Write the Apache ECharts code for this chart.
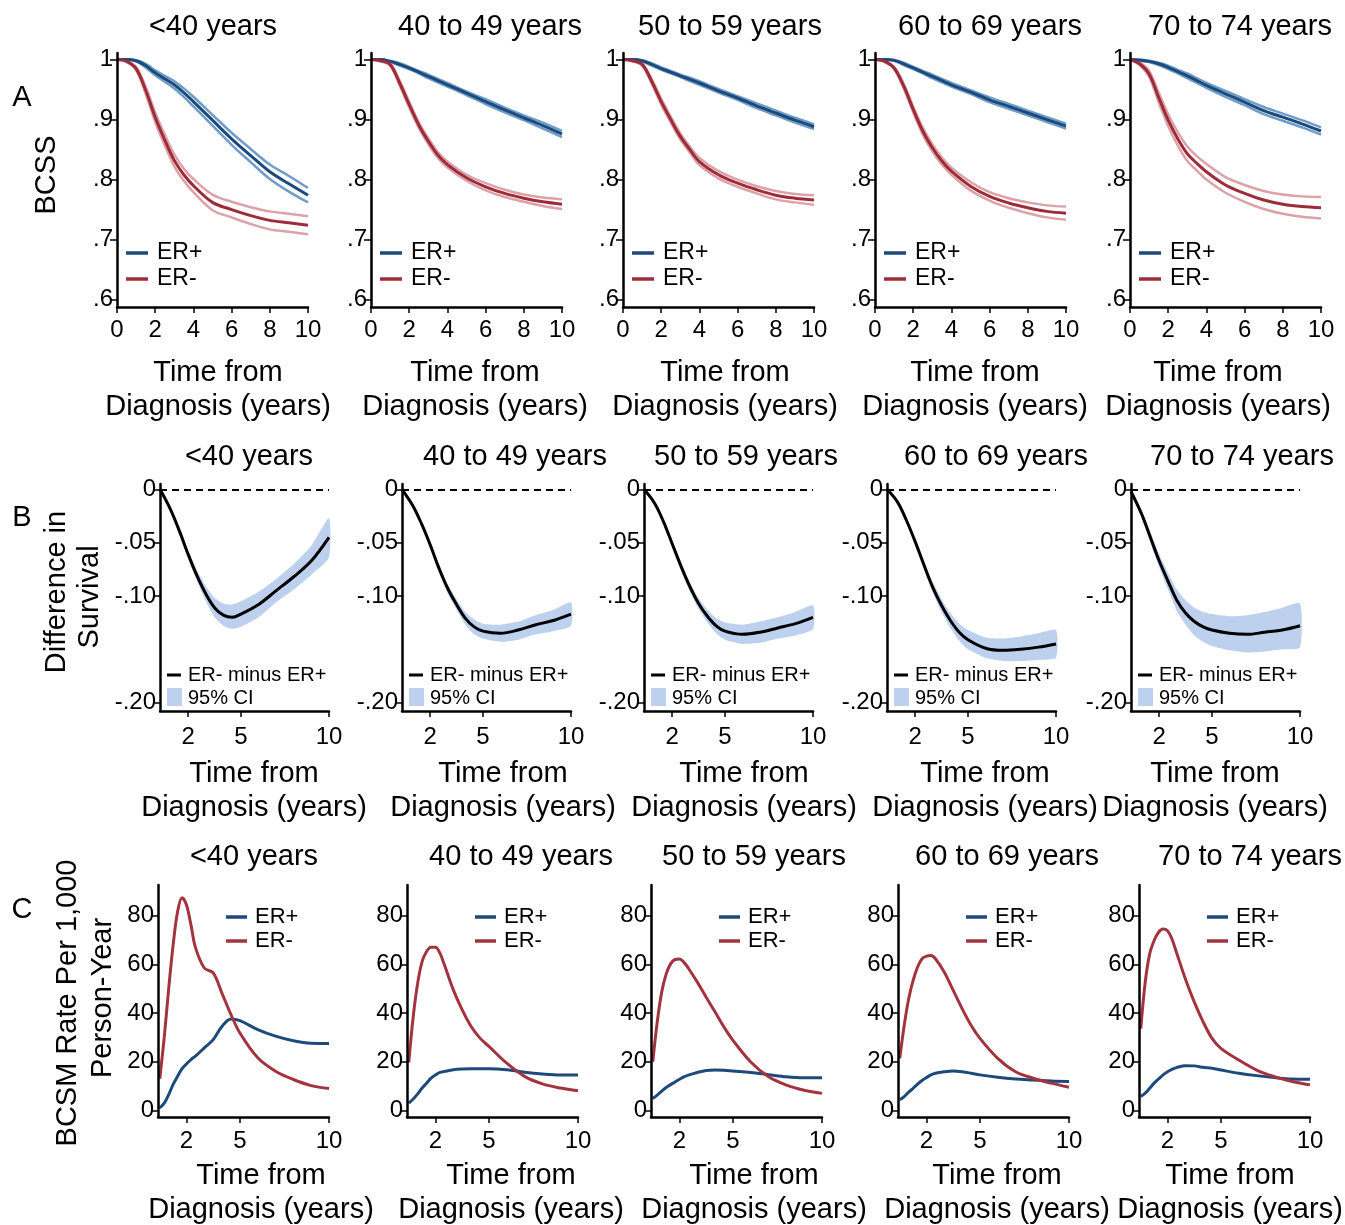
<!DOCTYPE html>
<html><head><meta charset="utf-8">
<script src="https://cdn.jsdelivr.net/npm/echarts@6/dist/echarts.min.js"></script>
<style>html,body{margin:0;padding:0;background:#fff}#c{width:1345px;height:1225px}</style>
</head><body><div id="c"></div>
<script>
// ---------------- DATA ----------------
const AGE_GROUPS = ['<40 years', '40 to 49 years', '50 to 59 years', '60 to 69 years', '70 to 74 years'];

// Row A: BCSS (Kaplan-Meier with 95% CI)
const T_A = [0, 0.5, 1, 1.5, 2, 2.5, 3, 3.5, 4, 5, 6, 7, 8, 9, 10];
const A_TICKS_X = [0, 2, 4, 6, 8, 10];
const A_TICKS_Y = [0.6, 0.7, 0.8, 0.9, 1];
const A_LABELS_Y = ['.6', '.7', '.8', '.9', '1'];

const A1_ERP    = [1, 1, 0.998, 0.990, 0.978, 0.968, 0.958, 0.945, 0.930, 0.899, 0.868, 0.840, 0.813, 0.793, 0.774];
const A1_ERP_HI = [1, 1, 0.999, 0.993, 0.982, 0.973, 0.964, 0.952, 0.938, 0.908, 0.878, 0.851, 0.825, 0.806, 0.786];
const A1_ERP_LO = [1, 1, 0.997, 0.987, 0.974, 0.963, 0.952, 0.938, 0.922, 0.890, 0.858, 0.829, 0.801, 0.780, 0.762];
const A1_ERN    = [1, 0.997, 0.985, 0.949, 0.904, 0.866, 0.832, 0.808, 0.790, 0.762, 0.750, 0.740, 0.732, 0.728, 0.724];
const A1_ERN_HI = [1, 0.998, 0.988, 0.955, 0.912, 0.875, 0.842, 0.818, 0.801, 0.775, 0.763, 0.754, 0.747, 0.743, 0.739];
const A1_ERN_LO = [1, 0.996, 0.982, 0.943, 0.896, 0.857, 0.822, 0.798, 0.779, 0.749, 0.737, 0.726, 0.717, 0.713, 0.709];

const A2_ERP    = [1, 1, 0.997, 0.992, 0.986, 0.979, 0.972, 0.965, 0.958, 0.944, 0.930, 0.916, 0.903, 0.890, 0.876];
const A2_ERP_HI = [1, 1, 0.998, 0.994, 0.988, 0.981, 0.975, 0.968, 0.961, 0.947, 0.934, 0.920, 0.907, 0.895, 0.881];
const A2_ERP_LO = [1, 1, 0.996, 0.990, 0.984, 0.977, 0.969, 0.962, 0.955, 0.941, 0.926, 0.912, 0.899, 0.885, 0.871];
const A2_ERN    = [1, 0.998, 0.992, 0.961, 0.925, 0.891, 0.864, 0.841, 0.825, 0.803, 0.788, 0.777, 0.769, 0.763, 0.759];
const A2_ERN_HI = [1, 0.999, 0.994, 0.965, 0.930, 0.896, 0.869, 0.846, 0.830, 0.808, 0.794, 0.783, 0.775, 0.770, 0.767];
const A2_ERN_LO = [1, 0.997, 0.990, 0.957, 0.920, 0.886, 0.859, 0.836, 0.820, 0.798, 0.782, 0.771, 0.763, 0.756, 0.751];

const A3_ERP    = [1, 1, 0.998, 0.992, 0.985, 0.979, 0.973, 0.967, 0.961, 0.948, 0.936, 0.923, 0.911, 0.899, 0.888];
const A3_ERP_HI = [1, 1, 0.999, 0.994, 0.987, 0.981, 0.975, 0.970, 0.964, 0.951, 0.939, 0.927, 0.915, 0.903, 0.892];
const A3_ERP_LO = [1, 1, 0.997, 0.990, 0.983, 0.977, 0.971, 0.964, 0.958, 0.945, 0.933, 0.919, 0.907, 0.895, 0.884];
const A3_ERN    = [1, 0.998, 0.992, 0.964, 0.930, 0.900, 0.872, 0.850, 0.830, 0.808, 0.794, 0.783, 0.774, 0.769, 0.766];
const A3_ERN_HI = [1, 0.999, 0.994, 0.968, 0.935, 0.905, 0.877, 0.855, 0.836, 0.814, 0.800, 0.789, 0.781, 0.776, 0.774];
const A3_ERN_LO = [1, 0.997, 0.990, 0.960, 0.925, 0.895, 0.867, 0.845, 0.824, 0.802, 0.788, 0.777, 0.767, 0.762, 0.758];

const A4_ERP    = [1, 1, 0.999, 0.993, 0.986, 0.979, 0.972, 0.965, 0.958, 0.946, 0.933, 0.922, 0.911, 0.900, 0.889];
const A4_ERP_HI = [1, 1, 0.999, 0.995, 0.988, 0.981, 0.975, 0.968, 0.961, 0.949, 0.937, 0.926, 0.915, 0.904, 0.893];
const A4_ERP_LO = [1, 1, 0.998, 0.991, 0.984, 0.977, 0.969, 0.962, 0.955, 0.943, 0.929, 0.918, 0.907, 0.896, 0.885];
const A4_ERN    = [1, 0.997, 0.986, 0.956, 0.917, 0.881, 0.853, 0.831, 0.814, 0.789, 0.772, 0.761, 0.753, 0.747, 0.744];
const A4_ERN_HI = [1, 0.998, 0.988, 0.960, 0.922, 0.887, 0.859, 0.837, 0.820, 0.796, 0.779, 0.769, 0.762, 0.757, 0.755];
const A4_ERN_LO = [1, 0.996, 0.984, 0.952, 0.912, 0.875, 0.847, 0.825, 0.808, 0.782, 0.765, 0.753, 0.744, 0.737, 0.733];

const A5_ERP    = [1, 0.999, 0.997, 0.993, 0.987, 0.980, 0.973, 0.965, 0.957, 0.943, 0.929, 0.915, 0.904, 0.893, 0.881];
const A5_ERP_HI = [1, 1, 0.998, 0.995, 0.990, 0.983, 0.977, 0.969, 0.961, 0.948, 0.934, 0.921, 0.910, 0.899, 0.887];
const A5_ERP_LO = [1, 0.998, 0.996, 0.991, 0.984, 0.977, 0.969, 0.961, 0.953, 0.938, 0.924, 0.909, 0.898, 0.887, 0.875];
const A5_ERN    = [1, 0.993, 0.976, 0.937, 0.899, 0.868, 0.843, 0.827, 0.813, 0.791, 0.777, 0.766, 0.759, 0.755, 0.753];
const A5_ERN_HI = [1, 0.995, 0.981, 0.945, 0.909, 0.879, 0.855, 0.839, 0.826, 0.804, 0.791, 0.781, 0.775, 0.772, 0.771];
const A5_ERN_LO = [1, 0.991, 0.971, 0.929, 0.889, 0.857, 0.831, 0.815, 0.800, 0.778, 0.763, 0.751, 0.743, 0.738, 0.735];

// Row B: difference in survival (ER- minus ER+) with 95% CI
const T_B = [0.4, 1, 1.5, 2, 2.5, 3, 3.5, 4, 4.5, 5, 6, 7, 8, 9, 10];
const B_TICKS_X = [2, 5, 10];
const B_TICKS_Y = [-0.2, -0.1, -0.05, 0];
const B_LABELS_Y = ['-.20', '-.10', '-.05', '0'];

const B1_DIFF = [0, -0.019, -0.039, -0.061, -0.081, -0.098, -0.111, -0.118, -0.120, -0.117, -0.108, -0.095, -0.082, -0.067, -0.045];
const B1_HI   = [0, -0.017, -0.036, -0.057, -0.076, -0.091, -0.102, -0.107, -0.108, -0.105, -0.096, -0.084, -0.070, -0.053, -0.027];
const B1_LO   = [0, -0.021, -0.042, -0.065, -0.086, -0.105, -0.120, -0.128, -0.131, -0.129, -0.120, -0.106, -0.094, -0.080, -0.064];
const B2_DIFF = [0, -0.015, -0.032, -0.052, -0.074, -0.093, -0.108, -0.121, -0.129, -0.133, -0.135, -0.132, -0.127, -0.123, -0.117];
const B2_HI   = [0, -0.014, -0.030, -0.049, -0.070, -0.089, -0.103, -0.115, -0.122, -0.126, -0.127, -0.124, -0.118, -0.113, -0.106];
const B2_LO   = [0, -0.016, -0.034, -0.055, -0.078, -0.098, -0.113, -0.127, -0.136, -0.140, -0.143, -0.141, -0.136, -0.133, -0.128];
const B3_DIFF = [0, -0.013, -0.030, -0.051, -0.072, -0.091, -0.107, -0.119, -0.128, -0.133, -0.136, -0.134, -0.130, -0.126, -0.120];
const B3_HI   = [0, -0.012, -0.028, -0.048, -0.068, -0.087, -0.102, -0.113, -0.121, -0.125, -0.127, -0.124, -0.120, -0.115, -0.109];
const B3_LO   = [0, -0.014, -0.032, -0.054, -0.076, -0.096, -0.112, -0.125, -0.135, -0.141, -0.145, -0.144, -0.140, -0.137, -0.131];
const B4_DIFF = [0, -0.012, -0.029, -0.049, -0.071, -0.092, -0.109, -0.123, -0.134, -0.141, -0.149, -0.151, -0.150, -0.148, -0.145];
const B4_HI   = [0, -0.011, -0.027, -0.046, -0.067, -0.087, -0.103, -0.116, -0.126, -0.132, -0.139, -0.140, -0.138, -0.135, -0.132];
const B4_LO   = [0, -0.013, -0.031, -0.052, -0.075, -0.097, -0.115, -0.130, -0.142, -0.150, -0.158, -0.161, -0.161, -0.160, -0.158];
const B5_DIFF = [-0.002, -0.023, -0.045, -0.067, -0.086, -0.104, -0.116, -0.124, -0.129, -0.132, -0.135, -0.136, -0.134, -0.132, -0.128];
const B5_HI   = [-0.001, -0.020, -0.040, -0.061, -0.078, -0.094, -0.104, -0.111, -0.115, -0.117, -0.119, -0.118, -0.115, -0.111, -0.107];
const B5_LO   = [-0.003, -0.026, -0.050, -0.073, -0.094, -0.114, -0.127, -0.137, -0.143, -0.147, -0.151, -0.153, -0.152, -0.150, -0.148];

// Row C: BCSM rate per 1,000 person-years
const T_C = [0.5, 0.75, 1, 1.25, 1.5, 1.75, 2, 2.25, 2.5, 3, 3.5, 4, 4.5, 5, 6, 7, 8, 9, 10];
const C_TICKS_X = [2, 5, 10];
const C_TICKS_Y = [0, 20, 40, 60, 80];

const C1_ERP = [1, 3, 6.5, 10.7, 14, 17.2, 19.1, 20.9, 22.3, 25.7, 29.1, 34.6, 37.6, 36.9, 33.2, 30.5, 28.6, 27.6, 27.5];
const C1_ERN = [13, 30, 50, 68, 81.7, 87.4, 84.4, 76.2, 67, 58.5, 56.5, 48, 39.3, 31.8, 21.6, 16.1, 12.7, 10.2, 9];
const C2_ERP = [3, 4.7, 6.8, 9.2, 11.2, 13.3, 14.6, 15.6, 16, 16.7, 17, 17.1, 17.1, 17.1, 16.7, 15.7, 15, 14.6, 14.6];
const C2_ERN = [19.7, 38.6, 52.3, 61.2, 65.3, 67, 67, 64.6, 59.8, 49.5, 41.3, 34.5, 29.7, 26.3, 19.4, 14, 10.9, 9.2, 8.1];
const C3_ERP = [4.9, 6.3, 7.9, 9.4, 10.6, 11.7, 12.8, 13.8, 14.5, 15.6, 16.4, 16.6, 16.5, 16.2, 15.6, 14.7, 13.8, 13.4, 13.4];
const C3_ERN = [20, 36.3, 48.6, 56, 60.2, 62, 62.2, 60.8, 58.4, 52.7, 46.5, 40.4, 34.2, 28.8, 19.9, 13.8, 10.4, 8.3, 7];
const C4_ERP = [4.4, 5.7, 7.5, 9.1, 10.8, 12.3, 13.5, 14.6, 15.3, 15.9, 16.2, 15.9, 15.3, 14.6, 13.6, 12.9, 12.5, 12.1, 11.9];
const C4_ERN = [21.4, 35, 45.9, 53.4, 58.9, 62.3, 63.4, 63.6, 62.3, 56.8, 49.3, 41.8, 35, 29.6, 21.4, 15.9, 13.2, 11.2, 9.5];
const C5_ERP = [5.7, 7.1, 9.1, 11.2, 12.9, 14.6, 15.9, 16.9, 17.6, 18.4, 18.3, 17.7, 17.3, 16.6, 15.3, 14.3, 13.5, 12.9, 12.8];
const C5_ERN = [33.6, 52.7, 64.3, 69.8, 73.2, 74.5, 73.8, 70.4, 65, 54.1, 44.6, 36.4, 29.6, 25.5, 20.7, 16.6, 13.9, 11.9, 10.5];

// ---------------- BUILD ----------------
const FONT = '"Liberation Sans", Arial, Helvetica, sans-serif';
const C_BLUE = '#1d4a7a', C_BLUE_CI = '#6e9dca';
const C_RED = '#9e2c38', C_RED_CI = '#dca2aa';
const C_RED_C = '#a3343f';
const C_BAND = '#bdd0ee';

const A_SETS = [
  [A1_ERP, A1_ERP_HI, A1_ERP_LO, A1_ERN, A1_ERN_HI, A1_ERN_LO],
  [A2_ERP, A2_ERP_HI, A2_ERP_LO, A2_ERN, A2_ERN_HI, A2_ERN_LO],
  [A3_ERP, A3_ERP_HI, A3_ERP_LO, A3_ERN, A3_ERN_HI, A3_ERN_LO],
  [A4_ERP, A4_ERP_HI, A4_ERP_LO, A4_ERN, A4_ERN_HI, A4_ERN_LO],
  [A5_ERP, A5_ERP_HI, A5_ERP_LO, A5_ERN, A5_ERN_HI, A5_ERN_LO]
];
const B_SETS = [[B1_DIFF, B1_HI, B1_LO], [B2_DIFF, B2_HI, B2_LO], [B3_DIFF, B3_HI, B3_LO], [B4_DIFF, B4_HI, B4_LO], [B5_DIFF, B5_HI, B5_LO]];
const C_SETS = [[C1_ERP, C1_ERN], [C2_ERP, C2_ERN], [C3_ERP, C3_ERN], [C4_ERP, C4_ERN], [C5_ERP, C5_ERN]];

const LAYOUT = {
  A: { lefts: [117, 371, 623, 875, 1130], width: 191, top: 53, height: 254, ymin: 0.5876, ymax: 1.011, xmin: 0, xmax: 10 },
  B: { lefts: [160, 402, 644, 887, 1131], width: 169, top: 484, height: 227, ymin: -0.2079, ymax: 0.005, xmin: 0.4, xmax: 10 },
  C: { lefts: [158, 407, 651, 898, 1139], width: 171, top: 885, height: 232, ymin: -2.7, ymax: 92.6, xmin: 0.4, xmax: 10 }
};

const pts = (T, arr) => T.map((t, i) => [t, arr[i]]);
const grids = [], xAxes = [], yAxes = [], series = [], graphics = [];

function labelFor(ticks, labels) {
  return v => { let best = 0; ticks.forEach((t, i) => { if (Math.abs(t - v) < Math.abs(ticks[best] - v)) best = i; }); return labels[best]; };
}
function addAxes(L, k, xt, yt, yfmt, xMargin) {
  const idx = grids.length;
  grids.push({ left: L.lefts[k], top: L.top, width: L.width, height: L.height, containLabel: false, outerBoundsMode: 'none' });
  xAxes.push({
    gridIndex: idx, type: 'value', min: L.xmin, max: L.xmax, z: 5,
    axisLine: { show: true, onZero: false, lineStyle: { color: '#000', width: 2.5 } },
    axisTick: { show: true, length: 6, customValues: xt, lineStyle: { color: '#000', width: 1.5 } },
    axisLabel: { customValues: xt, margin: xMargin, fontSize: 24, color: '#000', fontFamily: FONT, showMinLabel: true, showMaxLabel: true },
    splitLine: { show: false }
  });
  yAxes.push({
    gridIndex: idx, type: 'value', min: L.ymin, max: L.ymax, z: 5,
    axisLine: { show: true, onZero: false, lineStyle: { color: '#000', width: 2.5 } },
    axisTick: { show: true, length: 7, customValues: yt, lineStyle: { color: '#000', width: 1.5 } },
    axisLabel: { customValues: yt, margin: 4, fontSize: 24, color: '#000', fontFamily: FONT, formatter: yfmt },
    splitLine: { show: false }
  });
  return idx;
}
function line(idx, data, color, width, extra) {
  return Object.assign({ type: 'line', xAxisIndex: idx, yAxisIndex: idx, data, showSymbol: false, symbol: 'none',
    smooth: 0.35, lineStyle: { color, width }, itemStyle: { color }, silent: true, z: 2 }, extra || {});
}
function band(idx, T, hi, lo, color) {
  const data = T.map((t, i) => [t, hi[i], lo[i]]);
  return {
    type: 'custom', xAxisIndex: idx, yAxisIndex: idx, data, silent: true, z: 1,
    encode: { x: 0, y: [1, 2] },
    renderItem: (params, api) => {
      if (params.dataIndex !== 0) return null;
      const up = data.map(r => api.coord([r[0], r[1]]));
      const dn = data.map(r => api.coord([r[0], r[2]])).reverse();
      return { type: 'polygon', shape: { points: up.concat(dn), smooth: 0.2 }, style: { fill: color, stroke: null } };
    }
  };
}
function text(t, x, y, size, extra) {
  return Object.assign({ type: 'text', x, y, z: 100, silent: true,
    style: { text: t, fontSize: size, fontFamily: FONT, fill: '#000', textAlign: 'center', textVerticalAlign: 'middle', align: 'center', verticalAlign: 'middle' } }, extra || {});
}
function leftText(t, x, y, size) {
  return { type: 'text', x, y, z: 100, silent: true,
    style: { text: t, fontSize: size, fontFamily: FONT, fill: '#000', textAlign: 'left', textVerticalAlign: 'middle', align: 'left', verticalAlign: 'middle' } };
}
function seg(x1, y1, x2, y2, color, w) {
  return { type: 'line', z: 100, silent: true, shape: { x1, y1, x2, y2 }, style: { stroke: color, lineWidth: w } };
}

const fmtA = labelFor(A_TICKS_Y, A_LABELS_Y);
const fmtB = labelFor(B_TICKS_Y, B_LABELS_Y);

for (let k = 0; k < 5; k++) {
  // ---- Row A
  let L = LAYOUT.A;
  let idx = addAxes(L, k, A_TICKS_X, A_TICKS_Y, fmtA, 11);
  const [p, ph, pl, n, nh, nl] = A_SETS[k];
  series.push(line(idx, pts(T_A, ph), C_BLUE_CI, 2.5));
  series.push(line(idx, pts(T_A, pl), C_BLUE_CI, 2.5));
  series.push(line(idx, pts(T_A, nh), C_RED_CI, 2.5));
  series.push(line(idx, pts(T_A, nl), C_RED_CI, 2.5));
  series.push(line(idx, pts(T_A, p), C_BLUE, 3));
  series.push(line(idx, pts(T_A, n), C_RED, 3));
  let gl = L.lefts[k];
  graphics.push(seg(gl + 9, 253, gl + 31, 253, C_BLUE, 3.5), leftText('ER+', gl + 40, 253, 23));
  graphics.push(seg(gl + 9, 279, gl + 31, 279, C_RED, 3.5), leftText('ER-', gl + 40, 279, 23));

  // ---- Row B
  L = LAYOUT.B;
  idx = addAxes(L, k, B_TICKS_X, B_TICKS_Y, fmtB, 14);
  const [d, hi, lo] = B_SETS[k];
  series.push(band(idx, T_B, hi, lo, C_BAND));
  series.push(line(idx, pts(T_B, d), '#000', 3, {
    markLine: { silent: true, symbol: ['none', 'none'], label: { show: false }, animation: false,
      lineStyle: { color: '#000', type: [7, 5], width: 2 }, data: [{ yAxis: 0 }] }
  }));
  gl = L.lefts[k];
  graphics.push(seg(gl + 7, 675, gl + 21, 675, '#000', 3), leftText('ER- minus ER+', gl + 28, 675, 20));
  graphics.push({ type: 'rect', z: 100, silent: true, shape: { x: gl + 7, y: 688, width: 15, height: 18 }, style: { fill: C_BAND } },
    leftText('95% CI', gl + 28, 698, 20));

  // ---- Row C
  L = LAYOUT.C;
  idx = addAxes(L, k, C_TICKS_X, C_TICKS_Y, v => String(Math.round(v)), 12);
  const [cp, cn] = C_SETS[k];
  series.push(line(idx, pts(T_C, cp), C_BLUE, 3));
  series.push(line(idx, pts(T_C, cn), C_RED_C, 3));
  gl = L.lefts[k];
  graphics.push(seg(gl + 68, 917, gl + 89, 917, C_BLUE, 3.5), leftText('ER+', gl + 97, 917, 22));
  graphics.push(seg(gl + 68, 941, gl + 89, 941, C_RED_C, 3.5), leftText('ER-', gl + 97, 941, 22));
}

// Titles
const TITLE_X = { A: [213, 490, 730, 990, 1240], B: [249, 515, 746, 996, 1242], C: [254, 521, 754, 1007, 1250] };
const TITLE_Y = { A: 27, B: 457, C: 857 };
const XNAME_X = { A: [218, 475, 725, 975, 1218], B: [254, 503, 744, 985, 1215], C: [261, 511, 754, 997, 1230] };
const XNAME_Y = { A: [373, 407], B: [774, 808], C: [1176, 1210] };
['A', 'B', 'C'].forEach(r => {
  for (let k = 0; k < 5; k++) {
    graphics.push(text(AGE_GROUPS[k], TITLE_X[r][k], TITLE_Y[r], 29));
    graphics.push(text('Time from', XNAME_X[r][k], XNAME_Y[r][0], 29));
    graphics.push(text('Diagnosis (years)', XNAME_X[r][k], XNAME_Y[r][1], 29));
  }
});
// Panel letters
graphics.push(text('A', 22, 98, 29), text('B', 22, 518, 29), text('C', 22, 910, 29));
// Y-axis titles
graphics.push(text('BCSS', 47, 175, 29, { rotation: Math.PI / 2 }));
graphics.push(text('Difference in', 57, 592, 29, { rotation: Math.PI / 2 }));
graphics.push(text('Survival', 90, 597, 29, { rotation: Math.PI / 2 }));
graphics.push(text('BCSM Rate Per 1,000', 68, 1003, 29, { rotation: Math.PI / 2 }));
graphics.push(text('Person-Year', 103, 998, 29, { rotation: Math.PI / 2 }));

const chart = echarts.init(document.getElementById('c'), null, { renderer: 'canvas' });
chart.setOption({
  animation: false,
  backgroundColor: '#fff',
  grid: grids, xAxis: xAxes, yAxis: yAxes, series,
  graphic: { elements: graphics }
});
</script></body></html>
